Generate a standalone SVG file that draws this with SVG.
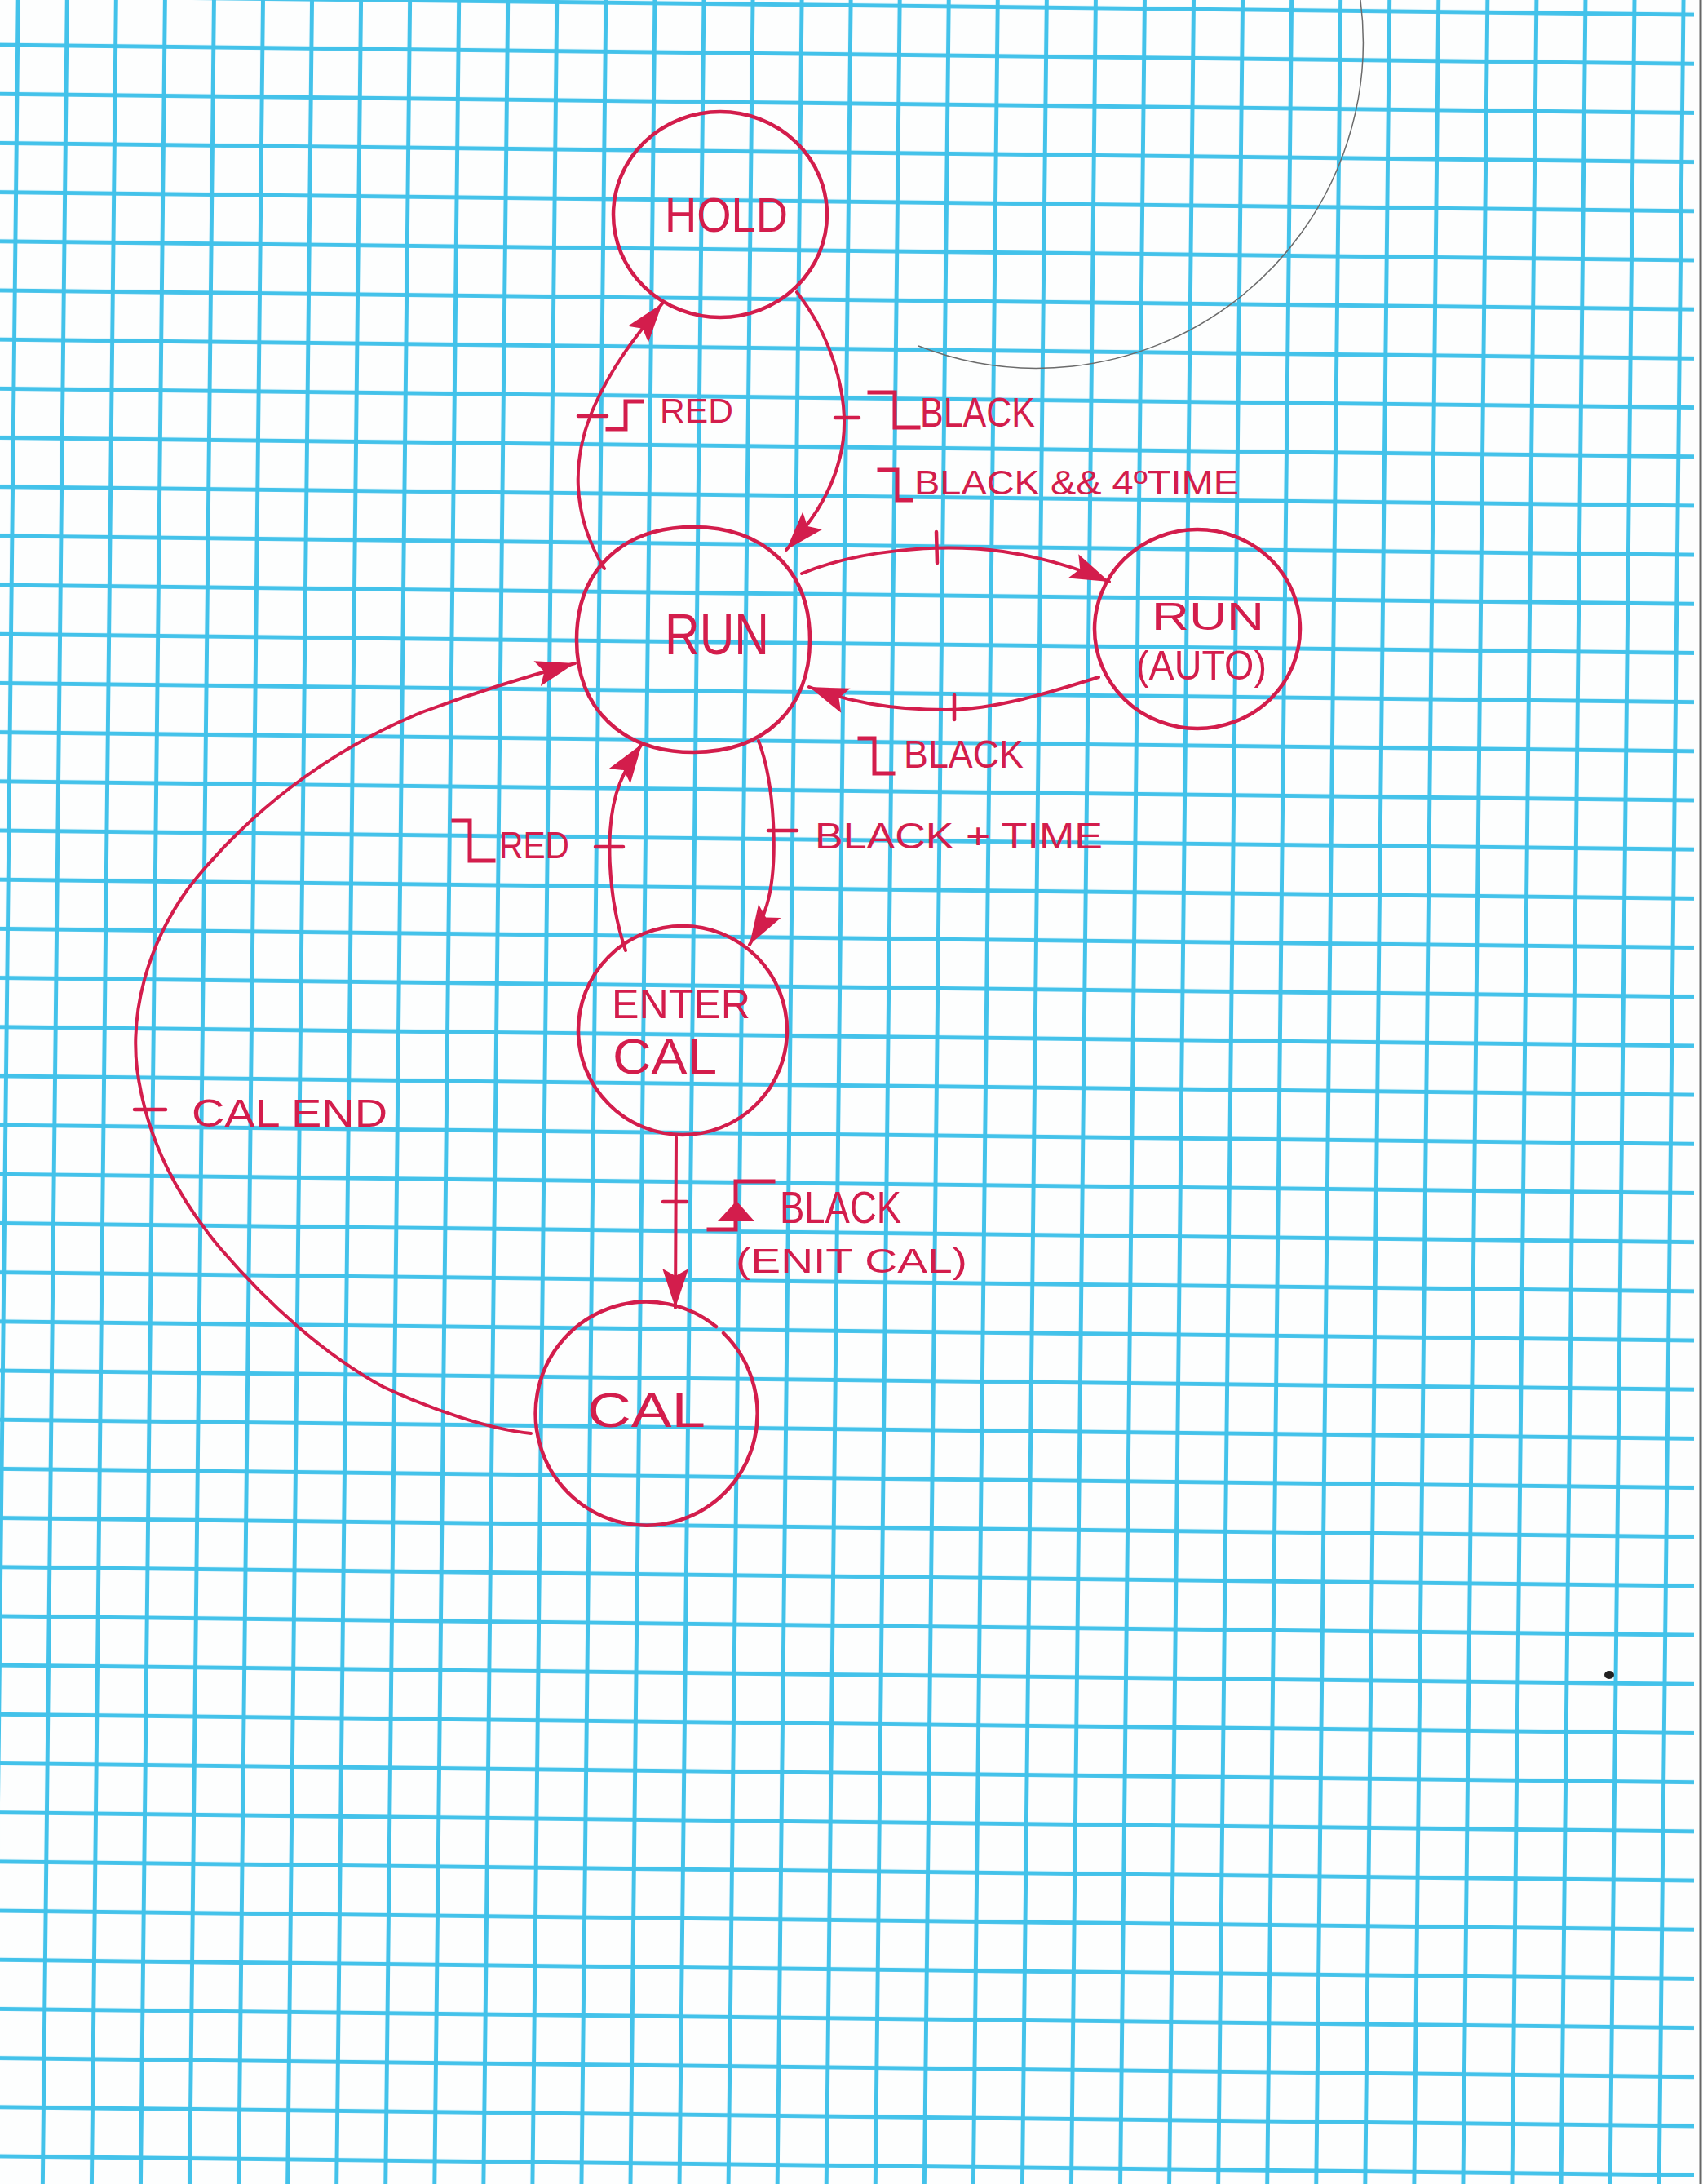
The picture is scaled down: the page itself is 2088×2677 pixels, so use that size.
<svg xmlns="http://www.w3.org/2000/svg" width="2088" height="2677" viewBox="0 0 2088 2677">
  <defs>
    <pattern id="gridpat" patternUnits="userSpaceOnUse" x="-7.8" y="25" width="60.05" height="60.18" patternTransform="rotate(0.64)">
      <rect x="27.5" y="0" width="5" height="60.18" fill="#43c2ea"/>
      <rect x="0" y="27.5" width="60.05" height="5" fill="#43c2ea"/>
    </pattern>
    <marker id="arrow" markerUnits="userSpaceOnUse" markerWidth="60" markerHeight="40" refX="52" refY="20" orient="auto" viewBox="0 0 60 40">
      <path d="M52,20 L4,4 L13,20 L4,36 Z" fill="#d31d4c"/>
    </marker>
    <style>
      .node { fill: none; stroke: #d31d4c; stroke-width: 4.5; stroke-linecap: round; stroke-linejoin: round; }
      .conn { fill: none; stroke: #d31d4c; stroke-width: 4; stroke-linecap: round; marker-end: url(#arrow); }
      .tick { stroke: #d31d4c; stroke-width: 4.5; stroke-linecap: round; }
      .edge { fill: none; stroke: #d31d4c; stroke-width: 5; stroke-linejoin: miter; stroke-linecap: square; }
      .txt { font-family: "Liberation Sans", Arial, sans-serif; fill: #d31d4c; }
    </style>
  </defs>

  <!-- paper -->
  <g id="paper">
    <rect x="0" y="0" width="2088" height="2677" fill="#fdfefe"/>
    <rect x="0" y="0" width="2077" height="2677" fill="url(#gridpat)"/>
    <line x1="2085" y1="0" x2="2085" y2="2677" stroke="#666" stroke-width="3"/>
    <path d="M 1126 424 A 400 400 0 0 0 1668 0" fill="none" stroke="#6b6b6b" stroke-width="1.5"/>
    <ellipse cx="1973" cy="2053" rx="6" ry="5" fill="#222"/>
  </g>

  <!-- nodes -->
  <g id="node-hold">
    <ellipse class="node" cx="883" cy="263" rx="131" ry="126"/>
    <text class="txt" x="815" y="284" font-size="60" textLength="151" lengthAdjust="spacingAndGlyphs">HOLD</text>
  </g>
  <g id="node-run">
    <path class="node" d="M 993 784 C 993 870, 936 922, 850 922 C 764 922, 707 870, 707 784 C 707 698, 764 646, 850 646 C 936 646, 993 698, 993 784 Z"/>
    <text class="txt" x="815" y="802" font-size="70" textLength="128" lengthAdjust="spacingAndGlyphs">RUN</text>
  </g>
  <g id="node-run-auto">
    <ellipse class="node" cx="1468" cy="771" rx="126" ry="122"/>
    <text class="txt" x="1412" y="772" font-size="48" textLength="138" lengthAdjust="spacingAndGlyphs">RUN</text>
    <text class="txt" x="1393" y="833" font-size="50" textLength="160" lengthAdjust="spacingAndGlyphs">(AUTO)</text>
  </g>
  <g id="node-enter-cal">
    <ellipse class="node" cx="837" cy="1263" rx="128" ry="128"/>
    <text class="txt" x="750" y="1248" font-size="50" textLength="170" lengthAdjust="spacingAndGlyphs">ENTER</text>
    <text class="txt" x="751" y="1316" font-size="62" textLength="128" lengthAdjust="spacingAndGlyphs">CAL</text>
  </g>
  <g id="node-cal">
    <path class="node" d="M 878 1626 A 136 137 0 1 0 887 1634"/>
    <text class="txt" x="720" y="1749" font-size="60" textLength="145" lengthAdjust="spacingAndGlyphs">CAL</text>
  </g>

  <!-- connectors -->
  <g id="connectors">
    <path id="run-to-hold" class="conn" d="M 741 697 C 700 630, 700 560, 730 495 C 755 440, 790 400, 812 372"/>
    <path id="hold-to-run" class="conn" d="M 977 358 C 1025 420, 1045 500, 1030 560 C 1018 610, 990 645, 964 674"/>
    <path id="run-to-auto" class="conn" d="M 983 703 C 1050 675, 1150 665, 1230 676 C 1290 685, 1330 700, 1360 713"/>
    <path id="auto-to-run" class="conn" d="M 1347 830 C 1290 848, 1220 870, 1160 870 C 1090 870, 1040 860, 992 842"/>
    <path id="enter-to-run" class="conn" d="M 767 1165 C 745 1100, 740 1010, 760 960 C 768 940, 778 925, 787 912"/>
    <path id="run-to-enter" class="conn" d="M 930 908 C 950 960, 955 1060, 940 1110 C 932 1135, 925 1148, 919 1158"/>
    <path id="enter-to-cal" class="conn" d="M 829 1394 L 828 1603"/>
    <path id="cal-to-run" class="conn" d="M 651 1757 C 600 1752, 530 1728, 470 1700 C 400 1662, 330 1600, 270 1530 C 220 1470, 180 1400, 168 1310 C 160 1240, 180 1160, 230 1090 C 300 1000, 400 920, 520 872 C 590 846, 650 828, 705 813"/>
    <line class="tick" x1="709" y1="510" x2="744" y2="510"/>
    <line class="tick" x1="1024" y1="512" x2="1053" y2="512"/>
    <line class="tick" x1="1148" y1="652" x2="1149" y2="690"/>
    <line class="tick" x1="1170" y1="852" x2="1170" y2="882"/>
    <line class="tick" x1="730" y1="1038" x2="764" y2="1038"/>
    <line class="tick" x1="942" y1="1018" x2="977" y2="1018"/>
    <line class="tick" x1="813" y1="1473" x2="842" y2="1473"/>
    <line class="tick" x1="165" y1="1360" x2="203" y2="1360"/>
  </g>

  <!-- labels -->
  <g id="label-red-rise">
    <polyline class="edge" points="745,526 767,526 767,492 787,492"/>
    <text class="txt" x="809" y="518" font-size="42" textLength="90" lengthAdjust="spacingAndGlyphs">RED</text>
  </g>
  <g id="label-black-fall">
    <polyline class="edge" points="1066,481 1097,481 1097,524 1126,524"/>
    <text class="txt" x="1128" y="523" font-size="50" textLength="141" lengthAdjust="spacingAndGlyphs">BLACK</text>
  </g>
  <g id="label-black-4time">
    <polyline class="edge" points="1078,576 1100,576 1100,613 1117,613"/>
    <text class="txt" x="1121" y="606" font-size="42" textLength="398" lengthAdjust="spacingAndGlyphs">BLACK &amp;&amp; 4ºTIME</text>
  </g>
  <g id="label-black-auto-back">
    <polyline class="edge" points="1054,905 1072,905 1072,948 1095,948"/>
    <text class="txt" x="1108" y="941" font-size="48" textLength="147" lengthAdjust="spacingAndGlyphs">BLACK</text>
  </g>
  <g id="label-red-fall">
    <polyline class="edge" points="556,1006 576,1006 576,1055 605,1055"/>
    <text class="txt" x="612" y="1052" font-size="46" textLength="86" lengthAdjust="spacingAndGlyphs">RED</text>
  </g>
  <g id="label-black-time">
    <text class="txt" x="999" y="1040" font-size="44" textLength="353" lengthAdjust="spacingAndGlyphs">BLACK + TIME</text>
  </g>
  <g id="label-black-exit">
    <polyline class="edge" points="869,1507 902,1507 902,1448 948,1448"/>
    <polygon points="903,1472 880,1497 925,1497" fill="#d31d4c"/>
    <text class="txt" x="956" y="1499" font-size="56" textLength="149" lengthAdjust="spacingAndGlyphs">BLACK</text>
    <text class="txt" x="902" y="1560" font-size="42" textLength="284" lengthAdjust="spacingAndGlyphs">(ENIT CAL)</text>
  </g>
  <g id="label-cal-end">
    <text class="txt" x="235" y="1381" font-size="48" textLength="240" lengthAdjust="spacingAndGlyphs">CAL END</text>
  </g>
</svg>
